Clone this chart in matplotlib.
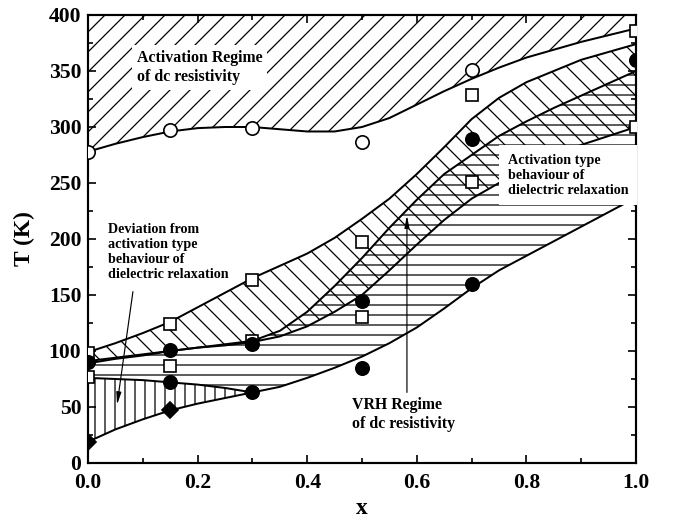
import numpy as np
import matplotlib
matplotlib.use('Agg')
from matplotlib import pyplot as plt
from matplotlib.ticker import MultipleLocator, FormatStrFormatter

plt.rcParams['font.family'] = 'Liberation Serif'
plt.rcParams['font.weight'] = 'bold'
plt.rcParams['hatch.linewidth'] = 0.75

# grid on which the regime boundaries were read
xs = np.array([0.0, 0.05, 0.1, 0.15, 0.2, 0.25, 0.3, 0.35, 0.4, 0.45, 0.5,
               0.55, 0.6, 0.65, 0.7, 0.75, 0.8, 0.85, 0.9, 0.95, 1.0])

# lower edge of activation regime of dc resistivity
T_act = np.array([278, 285, 291, 296, 299, 300, 300, 298, 296, 296, 300,
                  308, 320, 332, 343, 353, 362, 369, 376, 382, 388])
# activation type dielectric relaxation band (upper / lower)
T_rel_hi = np.array([99, 107, 116, 126, 139, 152, 165, 176, 187, 201, 218,
                     236, 258, 282, 307, 326, 340, 350, 360, 367, 374])
T_rel_lo = np.array([91, 94, 97, 100, 103, 105, 108, 113, 122, 135, 150,
                     172, 195, 217, 236, 250, 263, 274, 284, 292, 300])
# VRH regime upper edge and lowest boundary
T_vrh_hi = np.array([89, 93, 96, 100, 103, 106, 109, 118, 135, 158, 183,
                     210, 235, 258, 275, 292, 305, 317, 328, 339, 350])
T_low = np.array([19, 30, 39, 47, 53, 58, 63, 68, 76, 85, 95,
                  107, 121, 138, 156, 172, 185, 198, 211, 224, 237])
# top of the deviation region (x <= 0.3)
xs_dev = xs[:7]
T_dev_hi = np.array([76, 75, 74, 72, 70, 67, 63])

# measured points
x_open = [0.0, 0.15, 0.3, 0.5, 0.7]
T_open = [278, 297, 299, 287, 351]
x_sq = [0.0, 0.0, 0.15, 0.15, 0.3, 0.3, 0.5, 0.5, 0.7, 0.7, 1.0, 1.0]
T_sq = [98, 77, 124, 87, 163, 109, 197, 130, 329, 251, 386, 300]
x_fill = [0.0, 0.15, 0.15, 0.3, 0.3, 0.5, 0.5, 0.7, 0.7, 1.0, 1.0]
T_fill = [90, 101, 72, 106, 63, 145, 85, 289, 160, 360, 237]
x_dia = [0.0, 0.15]
T_dia = [19, 47]

fig = plt.figure(figsize=(679/120, 524/120), dpi=120)
ax = fig.add_axes([88/679, 61/524, 548/679, 448/524])

# hatched regimes
ax.fill_between(xs, T_act, 400, facecolor='none', edgecolor='black', hatch='//', linewidth=0)
ax.fill_between(xs, T_rel_lo, T_rel_hi, facecolor='none', edgecolor='black', hatch='\\\\', linewidth=0)
T_vrh_lo = np.concatenate([T_dev_hi, T_low[7:]])
ax.fill_between(xs, T_vrh_lo, T_vrh_hi, facecolor='none', edgecolor='black', hatch='--', linewidth=0)
ax.fill_between(xs_dev, T_low[:7], T_dev_hi, facecolor='none', edgecolor='black', hatch='||', linewidth=0)

for curve in [T_act, T_rel_hi, T_rel_lo, T_vrh_hi, T_low]:
    ax.plot(xs, curve, color='black', lw=1.2)
ax.plot(xs_dev, T_dev_hi, color='black', lw=1.2)

ax.plot(x_open, T_open, 'o', ms=8, mfc='white', mec='black', mew=1.0, zorder=5)
ax.plot(x_sq, T_sq, 's', ms=7, mfc='white', mec='black', mew=1.0, zorder=5)
ax.plot(x_fill, T_fill, 'o', ms=8, mfc='black', mec='black', zorder=5)
ax.plot(x_dia, T_dia, 'D', ms=6.5, mfc='black', mec='black', zorder=5)

box = dict(boxstyle='square,pad=0.3', facecolor='white', edgecolor='none')
ax.text(0.089, 353, 'Activation Regime\nof dc resistivity', fontsize=9.5,
        ha='left', va='center', linespacing=1.25, bbox=box, zorder=6)
ax.text(0.766, 257, 'Activation type\nbehaviour of\ndielectric relaxation', fontsize=8.5,
        ha='left', va='center', linespacing=1.2,
        bbox=dict(boxstyle='square,pad=0.6', facecolor='white', edgecolor='none'), zorder=6)
ax.text(0.0365, 188, 'Deviation from\nactivation type\nbehaviour of\ndielectric relaxation',
        fontsize=8.5, ha='left', va='center', linespacing=1.2, zorder=6)
ax.text(0.482, 43, 'VRH Regime\nof dc resistivity', fontsize=9.5,
        ha='left', va='center', linespacing=1.25, zorder=6)

arrow = dict(arrowstyle='-|>,head_width=0.12,head_length=0.6', color='black', lw=0.7, shrinkA=0, shrinkB=0)
ax.annotate('', xy=(0.053, 52), xytext=(0.082, 153), arrowprops=arrow, zorder=6)
ax.annotate('', xy=(0.582, 221), xytext=(0.582, 63), arrowprops=arrow, zorder=6)

ax.set_xlim(0, 1.0)
ax.set_ylim(0, 400)
ax.xaxis.set_major_locator(MultipleLocator(0.2))
ax.xaxis.set_minor_locator(MultipleLocator(0.1))
ax.xaxis.set_major_formatter(FormatStrFormatter('%.1f'))
ax.yaxis.set_major_locator(MultipleLocator(50))
ax.yaxis.set_minor_locator(MultipleLocator(25))
ax.tick_params(which='both', direction='in', top=True, right=True, width=1.0, labelsize=13)
ax.tick_params(axis='x', pad=6)
ax.tick_params(axis='y', pad=4)
ax.tick_params(which='major', length=5)
ax.tick_params(which='minor', length=3)
for sp in ax.spines.values():
    sp.set_linewidth(1.3)

ax.set_xlabel('x', fontsize=14, fontweight='bold', labelpad=3)
ax.set_ylabel('T (K)', fontsize=14, fontweight='bold', labelpad=8)

fig.savefig('out.png', dpi=120)
